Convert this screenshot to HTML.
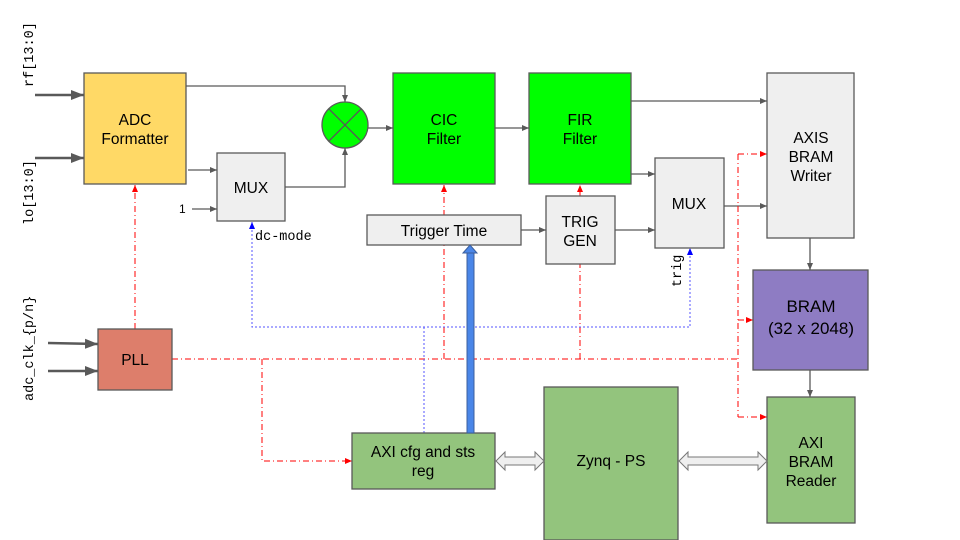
<!DOCTYPE html>
<html><head><meta charset="utf-8"><style>
html,body{margin:0;padding:0;background:#fff;}
svg{display:block;}
text{font-family:"Liberation Sans",sans-serif;font-size:15.5px;fill:#000;}
.m{font-family:"Liberation Mono",monospace;font-size:13.5px;}
</style></head><body>
<svg width="960" height="540" viewBox="0 0 960 540">
<defs>
<marker id="g" markerWidth="8" markerHeight="8" refX="7" refY="4" orient="auto" markerUnits="userSpaceOnUse"><path d="M0,1 L7,4 L0,7z" fill="#595959"/></marker>
<marker id="gb" markerWidth="14" markerHeight="12" refX="13" refY="6" orient="auto" markerUnits="userSpaceOnUse"><path d="M0,1 L13,6 L0,11z" fill="#595959"/></marker>
<marker id="r" markerWidth="8" markerHeight="8" refX="7" refY="4" orient="auto" markerUnits="userSpaceOnUse"><path d="M0,1 L7,4 L0,7z" fill="#f00"/></marker>
</defs>
<g stroke="#595959" stroke-width="1.3" fill="none">
<line x1="35" y1="95" x2="84" y2="95" stroke-width="2.5" marker-end="url(#gb)"/>
<line x1="35" y1="158" x2="84" y2="158" stroke-width="2.5" marker-end="url(#gb)"/>
<line x1="48" y1="343" x2="98" y2="344" stroke-width="2.5" marker-end="url(#gb)"/>
<line x1="48" y1="371" x2="98" y2="371" stroke-width="2.5" marker-end="url(#gb)"/>
<polyline points="186,86 345,86 345,102" marker-end="url(#g)"/>
<line x1="188" y1="170" x2="217" y2="170" marker-end="url(#g)"/>
<line x1="192" y1="209" x2="217" y2="209" marker-end="url(#g)"/>
<polyline points="285,187 345,187 345,148" marker-end="url(#g)"/>
<line x1="368" y1="128" x2="393" y2="128" marker-end="url(#g)"/>
<line x1="495" y1="128" x2="529" y2="128" marker-end="url(#g)"/>
<line x1="631" y1="101" x2="767" y2="101" marker-end="url(#g)"/>
<line x1="631" y1="174" x2="655" y2="174" marker-end="url(#g)"/>
<line x1="521" y1="230" x2="546" y2="230" marker-end="url(#g)"/>
<line x1="615" y1="230" x2="655" y2="230" marker-end="url(#g)"/>
<line x1="724" y1="206" x2="767" y2="206" marker-end="url(#g)"/>
<line x1="810" y1="238" x2="810" y2="270" marker-end="url(#g)"/>
<line x1="810" y1="370" x2="810" y2="397" marker-end="url(#g)"/>
</g>
<g stroke="#f00" stroke-width="1" fill="none" stroke-dasharray="6,3,1,3">
<line x1="135" y1="329" x2="135" y2="185" marker-end="url(#r)"/>
<line x1="172" y1="359" x2="738" y2="359"/>
<line x1="738" y1="154" x2="738" y2="417"/>
<line x1="738" y1="154" x2="767" y2="154" marker-end="url(#r)"/>
<line x1="738" y1="320" x2="753" y2="320" marker-end="url(#r)"/>
<line x1="738" y1="417" x2="767" y2="417" marker-end="url(#r)"/>
<line x1="580" y1="359" x2="580" y2="264"/>
<line x1="580" y1="196" x2="580" y2="185" marker-end="url(#r)"/>
<line x1="444" y1="359" x2="444" y2="185" marker-end="url(#r)"/>
<polyline points="262,359 262,461 352,461" marker-end="url(#r)"/>
</g>
<g stroke="#55f" stroke-width="1" fill="none" stroke-dasharray="2,2">
<polyline points="252,222 252,327 690,327 690,249"/>
<line x1="424" y1="327" x2="424" y2="433"/>
</g>
<path d="M249,229 L252,222 L255,229z" fill="#00f"/>
<path d="M687,255 L690,248 L693,255z" fill="#00f"/>
<g stroke="#595959" stroke-width="1.3">
<rect x="84" y="73" width="102" height="111" fill="#ffd966"/>
<rect x="217" y="153" width="68" height="68" fill="#efefef"/>
<rect x="393" y="73" width="102" height="111" fill="#00ff00"/>
<rect x="529" y="73" width="102" height="111" fill="#00ff00"/>
<rect x="367" y="215" width="154" height="30" fill="#efefef"/>
<rect x="546" y="196" width="69" height="68" fill="#efefef"/>
<rect x="655" y="158" width="69" height="90" fill="#efefef"/>
<rect x="767" y="73" width="87" height="165" fill="#efefef"/>
<rect x="753" y="270" width="115" height="100" fill="#8e7cc3"/>
<rect x="767" y="397" width="88" height="126" fill="#93c47d"/>
<rect x="98" y="329" width="74" height="61" fill="#dd7e6b"/>
<rect x="352" y="433" width="143" height="56" fill="#93c47d"/>
<rect x="544" y="387" width="134" height="153" fill="#93c47d"/>
<circle cx="345" cy="125" r="23" fill="#00ff00"/>
<line x1="329" y1="109" x2="361" y2="141"/>
<line x1="361" y1="109" x2="329" y2="141"/>
</g>
<rect x="467" y="252" width="7" height="181" fill="#4a86e8" stroke="#3c5f9c" stroke-width="1"/>
<path d="M463,253 L470,245 L477,253z" fill="#4a86e8" stroke="#3c5f9c" stroke-width="1"/>
<g fill="#efefef" stroke="#777" stroke-width="1">
<path d="M496,461 L505,452 L505,457 L535,457 L535,452 L544,461 L535,470 L535,465 L505,465 L505,470z"/>
<path d="M679,461 L688,452 L688,457 L758,457 L758,452 L767,461 L758,470 L758,465 L688,465 L688,470z"/>
</g>
<g text-anchor="middle">
<text x="135" y="125">ADC</text><text x="135" y="144">Formatter</text>
<text x="251" y="193">MUX</text>
<text x="444" y="125">CIC</text><text x="444" y="144">Filter</text>
<text x="580" y="125">FIR</text><text x="580" y="144">Filter</text>
<text x="444" y="236">Trigger Time</text>
<text x="580" y="227">TRIG</text><text x="580" y="246">GEN</text>
<text x="689" y="209">MUX</text>
<text x="811" y="143">AXIS</text><text x="811" y="162">BRAM</text><text x="811" y="181">Writer</text>
<text x="811" y="312" style="font-size:17px">BRAM</text><text x="811" y="334" style="font-size:17px">(32 x 2048)</text>
<text x="811" y="448">AXI</text><text x="811" y="467">BRAM</text><text x="811" y="486">Reader</text>
<text x="135" y="365">PLL</text>
<text x="423" y="457">AXI cfg and sts</text><text x="423" y="476">reg</text>
<text x="611" y="466">Zynq - PS</text>
</g>
<text x="179" y="213" style="font-size:12px">1</text>
<text x="255" y="240" class="m">dc-mode</text>
<text class="m" transform="translate(681,287) rotate(-90)">trig</text>
<text class="m" transform="translate(33,87) rotate(-90)">rf[13:0]</text>
<text class="m" transform="translate(33,225) rotate(-90)">lo[13:0]</text>
<text class="m" transform="translate(33,401) rotate(-90)">adc_clk_{p/n}</text>
</svg>
</body></html>
